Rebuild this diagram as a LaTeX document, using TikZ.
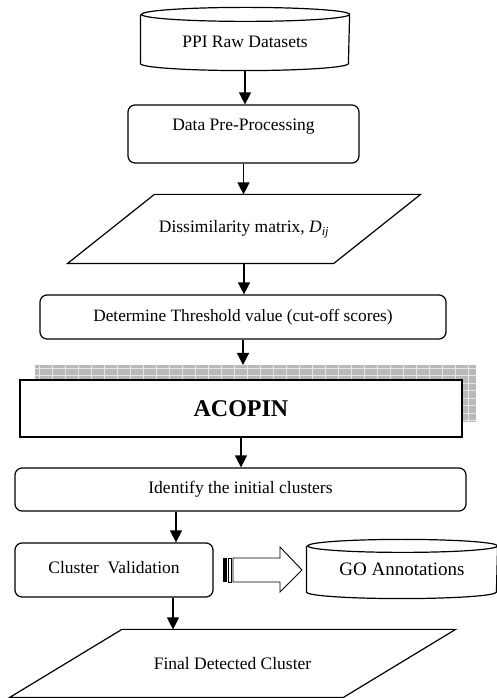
\documentclass[tikz,border=0pt]{standalone}
\usepackage{fontspec}
\setmainfont{Liberation Serif}
\usetikzlibrary{positioning}
\usetikzlibrary{arrows.meta}

\begin{document}
\begin{tikzpicture}[x=1pt,y=1pt,line width=1.2pt,
    flow/.style={draw, rounded corners=7pt, font=\fontsize{17.5}{20}\selectfont},
    plain/.style={font=\fontsize{17.5}{20}\selectfont},
    arr/.style={-{Triangle[length=12pt,width=12pt]}, line width=1.3pt}]
    \useasboundingbox (0,0) rectangle (497,698);

    % raw data store
    \node[plain, minimum width=208pt, minimum height=62pt, text height=18pt] (raw) at (245,659) {PPI Raw Datasets};
    \draw ([yshift=-7pt]raw.north west) -- ([yshift=7pt]raw.south west)
        arc[start angle=180, end angle=360, x radius=104pt, y radius=7pt]
        -- ([yshift=-7pt]raw.north east)
        arc[start angle=0, end angle=360, x radius=104pt, y radius=7pt];

    \node[flow, minimum width=231pt, minimum height=58pt, text depth=18pt] (prep) at (243.5,564) {Data Pre-Processing};

    % dissimilarity matrix
    \node[plain, minimum width=352pt, minimum height=68pt] (dis) at (244,469) {Dissimilarity matrix, \textit{D}\textsubscript{\textit{ij}}};
    \draw (dis.south west) -- ([xshift=-87pt]dis.south east) -- (dis.north east) -- ([xshift=87pt]dis.north west) -- cycle;

    \node[flow, font=\fontsize{17.3}{20}\selectfont, minimum width=406pt, minimum height=44pt] (thr) at (243,381) {Determine Threshold value (cut-off scores)};

    % ACOPIN with grid shadow
    \coordinate (shsw) at (35,276);
    \coordinate (shne) at (476,333);
    \fill[gray!55] (shsw) rectangle (shne);
    \begin{scope}
        \clip (shsw) rectangle (shne);
        \draw[white!80!gray, line width=0.5pt, xstep=13pt, ystep=7.5pt] (30,270) grid (480,340);
    \end{scope}
    \node[draw, fill=white, minimum width=442pt, minimum height=57pt, font=\bfseries\fontsize{24}{28}\selectfont] (aco) at (241,289.5) {ACOPIN};

    \node[flow, minimum width=451pt, minimum height=43pt] (init) at (240.5,208.5) {Identify the initial clusters};
    \node[flow, minimum width=198pt, minimum height=54pt, text depth=6pt] (val) at (114,128) {Cluster\ \ Validation};

    % GO store
    \node[plain, font=\fontsize{19}{22}\selectfont, minimum width=190pt, minimum height=58pt] (go) at (402,129) {GO Annotations};
    \draw ([yshift=-6.5pt]go.north west) -- ([yshift=6.5pt]go.south west)
        arc[start angle=180, end angle=360, x radius=95pt, y radius=6.5pt]
        -- ([yshift=-6.5pt]go.north east)
        arc[start angle=0, end angle=360, x radius=95pt, y radius=6.5pt];

    % striped block arrow
    \fill (223,116) rectangle (226.5,140);
    \draw[line width=0.8pt] (228.5,116) rectangle (231.5,140);
    \draw[line width=0.9pt] (233,116) -- (233,140) -- (280,140) -- (280,151) -- (302,128) -- (280,106) -- (280,116) -- cycle;

    % final clusters
    \node[plain, minimum width=445pt, minimum height=67pt] (fin) at (232.5,34.5) {Final Detected Cluster};
    \draw (fin.south west) -- ([xshift=-112.5pt]fin.south east) -- (fin.north east) -- ([xshift=112.5pt]fin.north west) -- cycle;

    \draw[arr] (raw.south) -- (raw.south |- prep.north);
    \draw[arr] (prep.south) -- (prep.south |- dis.north);
    \draw[arr] (dis.south) -- (dis.south |- thr.north);
    \draw[arr] (thr.south) -- (thr.south |- shne);
    \draw[arr] (aco.south) -- (aco.south |- init.north);
    \draw[arr] ([xshift=62pt]val.north |- init.south) -- ([xshift=62pt]val.north);
    \draw[arr] ([xshift=59pt]val.south) -- ([xshift=59pt]val.south |- fin.north);
\end{tikzpicture}
\end{document}
